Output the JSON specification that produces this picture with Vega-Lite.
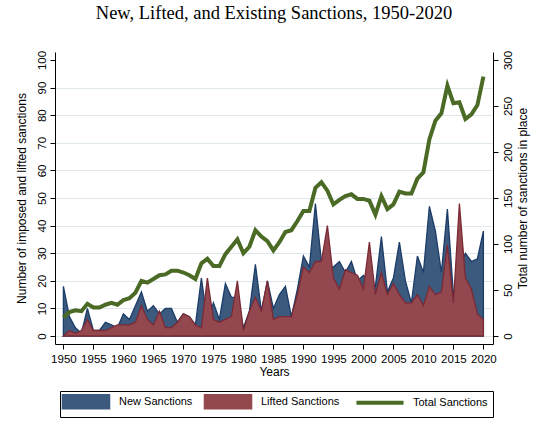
{
  "$schema": "https://vega.github.io/schema/vega-lite/v6.json",
  "width": 438,
  "height": 292,
  "autosize": {"type": "none"},
  "padding": {"left": 55, "top": 52, "right": 56, "bottom": 82},
  "background": "white",
  "title": {
    "text": "New, Lifted, and Existing Sanctions, 1950-2020",
    "font": "Liberation Serif",
    "fontSize": 18.5,
    "fontWeight": "normal",
    "color": "black",
    "anchor": "middle",
    "frame": "group",
    "baseline": "alphabetic",
    "offset": 13
  },
  "data": {
    "values": [
      {"year": 1950, "new": 18, "lifted": 0, "total": 20},
      {"year": 1951, "new": 7, "lifted": 2, "total": 26},
      {"year": 1952, "new": 3, "lifted": 1, "total": 28},
      {"year": 1953, "new": 1, "lifted": 2, "total": 27},
      {"year": 1954, "new": 10, "lifted": 6, "total": 35},
      {"year": 1955, "new": 2, "lifted": 2, "total": 31},
      {"year": 1956, "new": 2, "lifted": 2, "total": 31},
      {"year": 1957, "new": 5, "lifted": 2, "total": 34},
      {"year": 1958, "new": 4, "lifted": 3, "total": 36},
      {"year": 1959, "new": 3, "lifted": 4, "total": 34},
      {"year": 1960, "new": 8, "lifted": 4, "total": 39},
      {"year": 1961, "new": 6, "lifted": 4, "total": 41},
      {"year": 1962, "new": 11, "lifted": 5, "total": 47},
      {"year": 1963, "new": 16, "lifted": 11, "total": 60},
      {"year": 1964, "new": 9, "lifted": 6, "total": 58},
      {"year": 1965, "new": 11, "lifted": 4, "total": 62},
      {"year": 1966, "new": 8, "lifted": 9, "total": 66},
      {"year": 1967, "new": 10, "lifted": 3, "total": 67},
      {"year": 1968, "new": 10, "lifted": 3, "total": 71},
      {"year": 1969, "new": 5, "lifted": 5, "total": 71},
      {"year": 1970, "new": 8, "lifted": 8, "total": 69},
      {"year": 1971, "new": 7, "lifted": 7, "total": 66},
      {"year": 1972, "new": 4, "lifted": 4, "total": 62},
      {"year": 1973, "new": 21, "lifted": 3, "total": 79},
      {"year": 1974, "new": 5, "lifted": 21, "total": 84},
      {"year": 1975, "new": 12, "lifted": 6, "total": 76},
      {"year": 1976, "new": 6, "lifted": 5, "total": 76},
      {"year": 1977, "new": 19, "lifted": 6, "total": 89},
      {"year": 1978, "new": 14, "lifted": 7, "total": 97},
      {"year": 1979, "new": 14, "lifted": 20, "total": 105},
      {"year": 1980, "new": 3, "lifted": 2, "total": 90},
      {"year": 1981, "new": 9, "lifted": 9, "total": 97},
      {"year": 1982, "new": 26, "lifted": 14, "total": 115},
      {"year": 1983, "new": 9, "lifted": 9, "total": 108},
      {"year": 1984, "new": 20, "lifted": 20, "total": 103},
      {"year": 1985, "new": 10, "lifted": 6, "total": 93},
      {"year": 1986, "new": 15, "lifted": 7, "total": 102},
      {"year": 1987, "new": 18, "lifted": 7, "total": 113},
      {"year": 1988, "new": 7, "lifted": 7, "total": 115},
      {"year": 1989, "new": 17, "lifted": 15, "total": 125},
      {"year": 1990, "new": 29, "lifted": 25, "total": 136},
      {"year": 1991, "new": 25, "lifted": 23, "total": 136},
      {"year": 1992, "new": 48, "lifted": 27, "total": 161},
      {"year": 1993, "new": 27, "lifted": 27, "total": 167},
      {"year": 1994, "new": 25, "lifted": 40, "total": 158},
      {"year": 1995, "new": 25, "lifted": 21, "total": 143},
      {"year": 1996, "new": 27, "lifted": 17, "total": 148},
      {"year": 1997, "new": 23, "lifted": 24, "total": 152},
      {"year": 1998, "new": 27, "lifted": 23, "total": 154},
      {"year": 1999, "new": 20, "lifted": 22, "total": 149},
      {"year": 2000, "new": 22, "lifted": 17, "total": 149},
      {"year": 2001, "new": 20, "lifted": 34, "total": 147},
      {"year": 2002, "new": 18, "lifted": 15, "total": 132},
      {"year": 2003, "new": 36, "lifted": 23, "total": 152},
      {"year": 2004, "new": 16, "lifted": 15, "total": 138},
      {"year": 2005, "new": 21, "lifted": 19, "total": 143},
      {"year": 2006, "new": 34, "lifted": 15, "total": 157},
      {"year": 2007, "new": 20, "lifted": 12, "total": 155},
      {"year": 2008, "new": 12, "lifted": 12, "total": 155},
      {"year": 2009, "new": 29, "lifted": 15, "total": 171},
      {"year": 2010, "new": 23, "lifted": 11, "total": 178},
      {"year": 2011, "new": 47, "lifted": 18, "total": 214},
      {"year": 2012, "new": 38, "lifted": 15, "total": 234},
      {"year": 2013, "new": 23, "lifted": 16, "total": 242},
      {"year": 2014, "new": 46, "lifted": 33, "total": 272},
      {"year": 2015, "new": 15, "lifted": 12, "total": 253},
      {"year": 2016, "new": 25, "lifted": 48, "total": 254},
      {"year": 2017, "new": 30, "lifted": 21, "total": 236},
      {"year": 2018, "new": 27, "lifted": 17, "total": 241},
      {"year": 2019, "new": 28, "lifted": 8, "total": 251},
      {"year": 2020, "new": 38, "lifted": 6, "total": 282}
    ]
  },
  "encoding": {
    "x": {
      "field": "year",
      "type": "quantitative",
      "scale": {"domain": [1948.6, 2021.6], "nice": false, "zero": false},
      "axis": {
        "values": [1950, 1955, 1960, 1965, 1970, 1975, 1980, 1985, 1990, 1995, 2000, 2005, 2010, 2015, 2020],
        "format": "d",
        "title": "Years",
        "grid": false,
        "labelPadding": 4,
        "titlePadding": 2
      }
    }
  },
  "layer": [
    {
      "encoding": {
        "y": {
          "type": "quantitative",
          "scale": {"domain": [-2.9, 102.9], "nice": false, "zero": false},
          "axis": {
            "values": [0, 10, 20, 30, 40, 50, 60, 70, 80, 90, 100],
            "title": "Number of imposed and lifted sanctions",
            "grid": true,
            "gridColor": "#dfe9ec",
            "gridOpacity": {"condition": {"test": "datum.value == 100", "value": 0}, "value": 1},
            "labelAngle": 270,
            "labelAlign": "center",
            "labelBaseline": "alphabetic",
            "labelPadding": 5,
            "titlePadding": 8
          }
        },
        "y2": {"datum": 0}
      },
      "layer": [
        {
          "mark": {"type": "area", "stroke": "#1c3c68", "strokeWidth": 1.3, "opacity": 1},
          "encoding": {
            "y": {"field": "new", "type": "quantitative"},
            "color": {
              "datum": "New Sanctions",
              "scale": {
                "domain": ["New Sanctions", "Lifted Sanctions", "Total Sanctions"],
                "range": ["#3b5a7e", "#93484f", "#4a6a25"]
              },
              "legend": {
                "title": null,
                "orient": "none",
                "legendX": 5,
                "legendY": 339,
                "direction": "horizontal",
                "strokeColor": "black",
                "padding": 5,
                "labelFont": "Liberation Sans",
                "labelFontSize": 11,
                "labelColor": "black",
                "symbolSize": 196,
                "symbolStrokeWidth": 1.5,
                "symbolOffset": 15.5,
                "labelOffset": 27.5,
                "columnPadding": 8,
                "encode": {
                  "symbols": {
                    "update": {
                      "shape": {"signal": "datum.value === 'Total Sanctions' ? 'M-3.36,0H3.36' : 'M-3.36,-1H3.36V1H-3.36Z'"},
                      "fill": {"signal": "datum.value === 'New Sanctions' ? '#3b5a7e' : datum.value === 'Lifted Sanctions' ? '#93484f' : 'transparent'"},
                      "stroke": {"signal": "datum.value === 'New Sanctions' ? '#1c3c68' : datum.value === 'Lifted Sanctions' ? '#7b2a35' : '#4a6a25'"},
                      "strokeWidth": {"signal": "datum.value === 'Total Sanctions' ? 4 : 1.5"},
                      "opacity": {"value": 1},
                      "fillOpacity": {"value": 1},
                      "strokeOpacity": {"value": 1}
                    }
                  }
                }
              }
            }
          }
        },
        {
          "mark": {"type": "area", "stroke": "#7b2a35", "strokeWidth": 1.3, "opacity": 1},
          "encoding": {
            "y": {"field": "lifted", "type": "quantitative"},
            "color": {
              "datum": "Lifted Sanctions",
              "legend": {
                "title": null,
                "orient": "none",
                "legendX": 5,
                "legendY": 339,
                "direction": "horizontal",
                "strokeColor": "black",
                "padding": 5,
                "labelFont": "Liberation Sans",
                "labelFontSize": 11,
                "labelColor": "black",
                "symbolSize": 196,
                "symbolStrokeWidth": 1.5,
                "symbolOffset": 15.5,
                "labelOffset": 27.5,
                "columnPadding": 8,
                "encode": {
                  "symbols": {
                    "update": {
                      "shape": {"signal": "datum.value === 'Total Sanctions' ? 'M-3.36,0H3.36' : 'M-3.36,-1H3.36V1H-3.36Z'"},
                      "fill": {"signal": "datum.value === 'New Sanctions' ? '#3b5a7e' : datum.value === 'Lifted Sanctions' ? '#93484f' : 'transparent'"},
                      "stroke": {"signal": "datum.value === 'New Sanctions' ? '#1c3c68' : datum.value === 'Lifted Sanctions' ? '#7b2a35' : '#4a6a25'"},
                      "strokeWidth": {"signal": "datum.value === 'Total Sanctions' ? 4 : 1.5"},
                      "opacity": {"value": 1},
                      "fillOpacity": {"value": 1},
                      "strokeOpacity": {"value": 1}
                    }
                  }
                }
              }
            }
          }
        }
      ]
    },
    {
      "mark": {"type": "line", "strokeWidth": 4},
      "encoding": {
        "y": {
          "field": "total",
          "type": "quantitative",
          "scale": {"domain": [-8.7, 308.7], "nice": false, "zero": false},
          "axis": {
            "orient": "right",
            "values": [0, 50, 100, 150, 200, 250, 300],
            "title": "Total number of sanctions in place",
            "grid": false,
            "labelAngle": 270,
            "labelAlign": "center",
            "labelBaseline": "top",
            "labelPadding": 4,
            "titleAngle": 270,
            "titleBaseline": "top",
            "titlePadding": 4
          }
        },
        "color": {
          "datum": "Total Sanctions",
          "legend": {
            "title": null,
            "orient": "none",
            "legendX": 5,
            "legendY": 339,
            "direction": "horizontal",
            "strokeColor": "black",
            "padding": 5,
            "labelFont": "Liberation Sans",
            "labelFontSize": 11,
            "labelColor": "black",
            "symbolSize": 196,
            "symbolStrokeWidth": 1.5,
            "symbolOffset": 15.5,
            "labelOffset": 27.5,
            "columnPadding": 8,
            "encode": {
              "symbols": {
                "update": {
                  "shape": {"signal": "datum.value === 'Total Sanctions' ? 'M-3.36,0H3.36' : 'M-3.36,-1H3.36V1H-3.36Z'"},
                  "fill": {"signal": "datum.value === 'New Sanctions' ? '#3b5a7e' : datum.value === 'Lifted Sanctions' ? '#93484f' : 'transparent'"},
                  "stroke": {"signal": "datum.value === 'New Sanctions' ? '#1c3c68' : datum.value === 'Lifted Sanctions' ? '#7b2a35' : '#4a6a25'"},
                  "strokeWidth": {"signal": "datum.value === 'Total Sanctions' ? 4 : 1.5"},
                  "opacity": {"value": 1},
                  "fillOpacity": {"value": 1},
                  "strokeOpacity": {"value": 1}
                }
              }
            }
          }
        }
      }
    }
  ],
  "resolve": {"scale": {"y": "independent"}},
  "config": {
    "view": {"stroke": null},
    "axis": {
      "domainColor": "black",
      "domainWidth": 1,
      "tickColor": "black",
      "tickWidth": 1,
      "tickSize": 5,
      "labelColor": "black",
      "titleColor": "black",
      "labelFont": "Liberation Sans",
      "titleFont": "Liberation Sans",
      "labelFontSize": 11.5,
      "titleFontSize": 12,
      "titleFontWeight": "normal"
    }
  }
}
